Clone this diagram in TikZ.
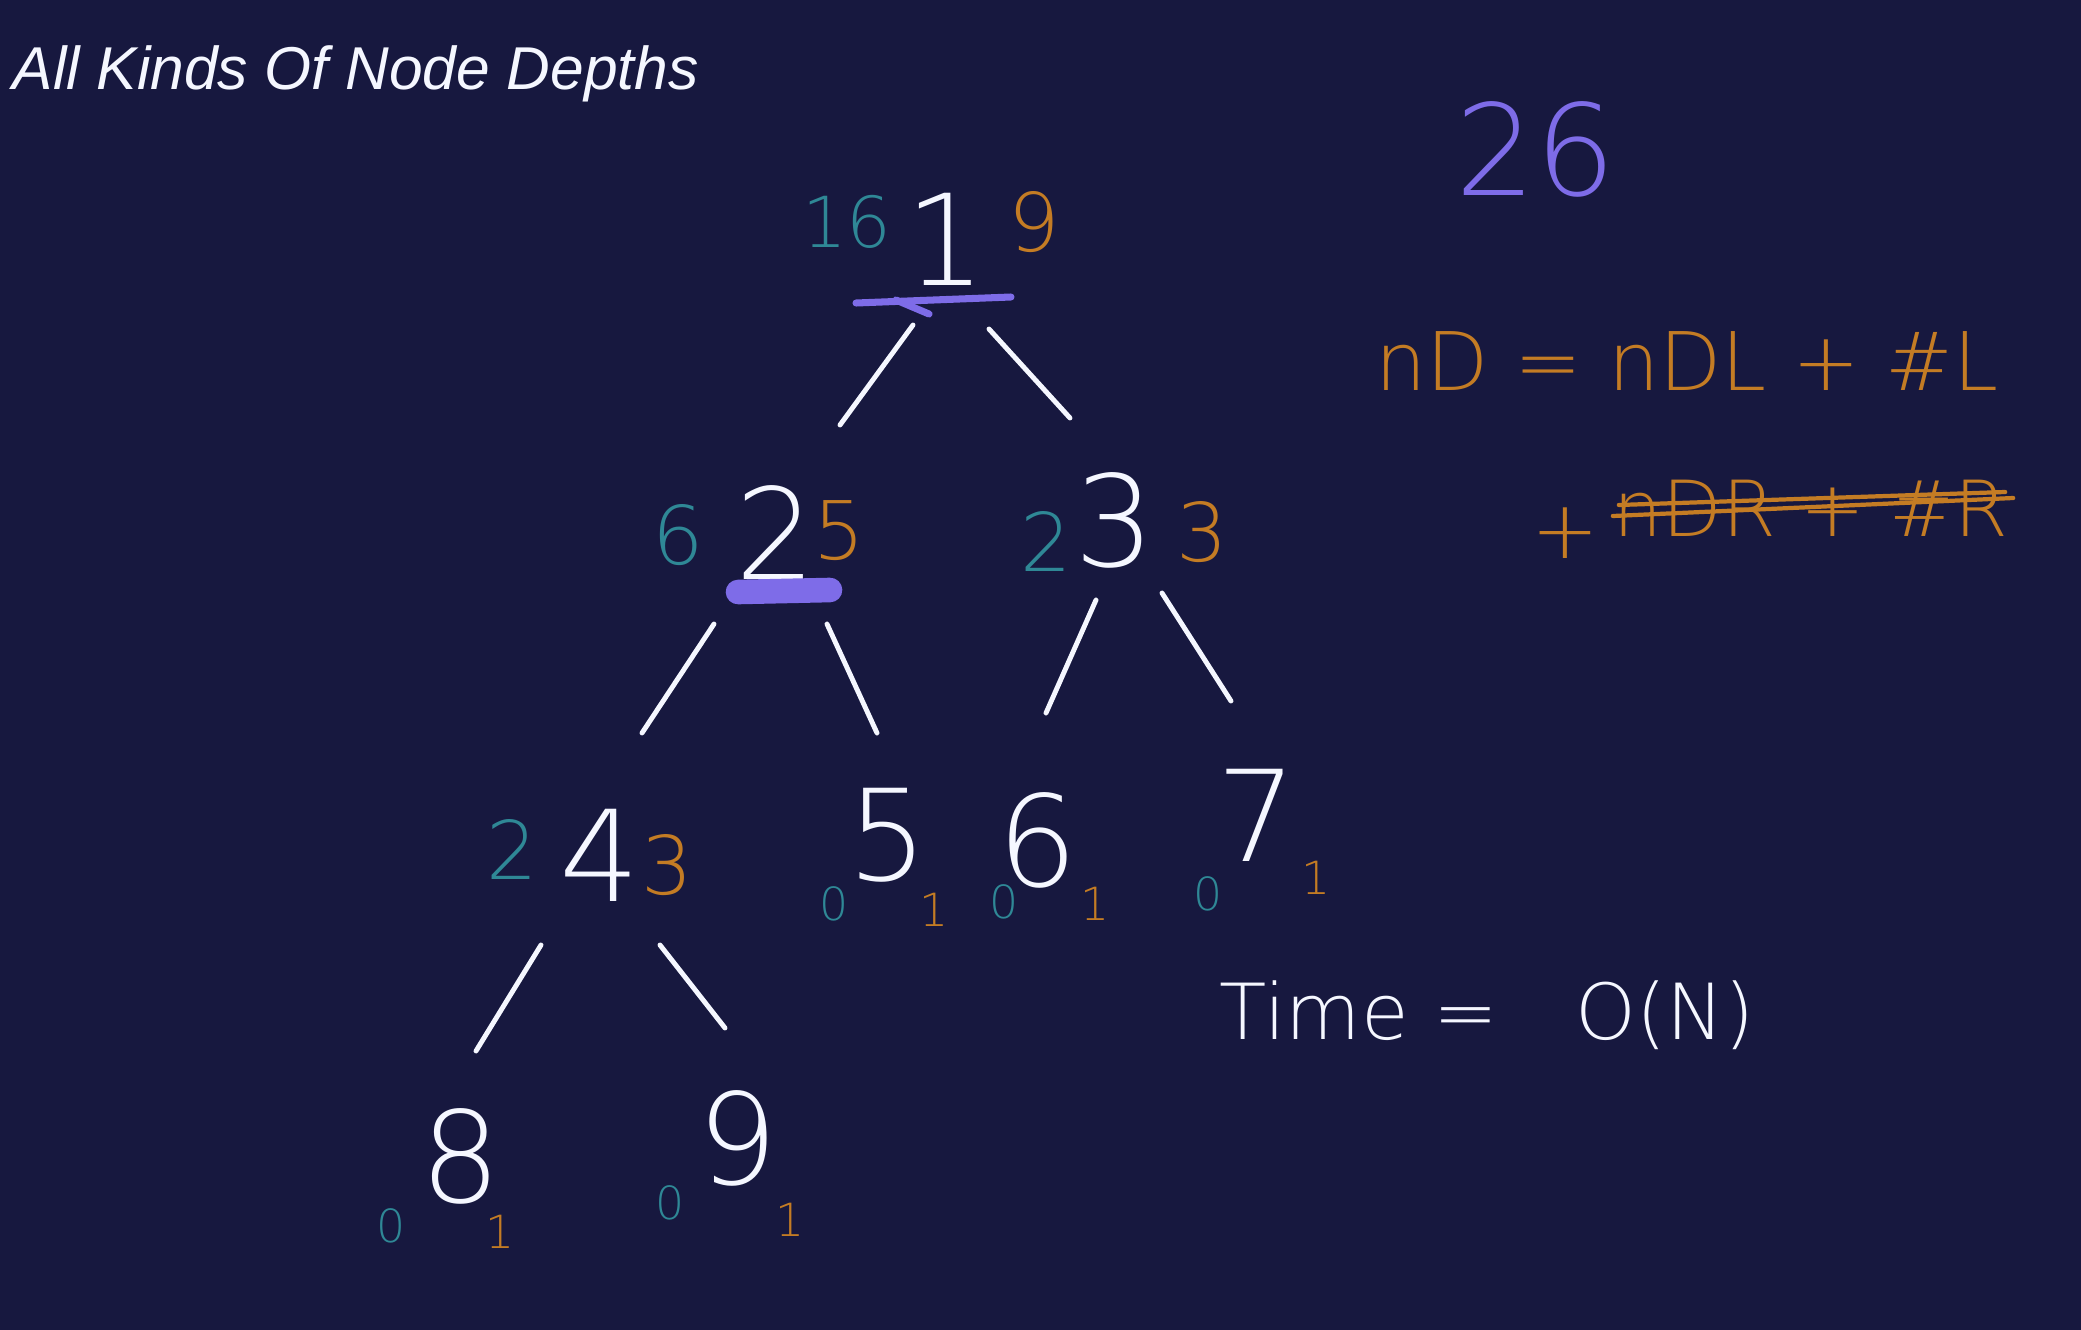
\documentclass[tikz,border=0pt]{standalone}
\usepackage{fontspec}
\setmainfont{Liberation Sans}
\newfontfamily\hand{DejaVuSans-ExtraLight.ttf}
\usepackage{tikz}
\usetikzlibrary{calc}
\definecolor{board}{RGB}{23,24,63}
\definecolor{chalk}{RGB}{245,247,255}
\definecolor{sumteal}{RGB}{47,136,150}
\definecolor{sumamber}{RGB}{196,124,36}
\definecolor{markviolet}{RGB}{126,108,232}

\begin{document}
\begin{tikzpicture}[x=0.01cm, y=-0.01cm, heading/.style={text=chalk, inner sep=0pt, font=\itshape\fontsize{17.2}{20}\selectfont}, treenode/.style={text=chalk, inner ysep=0pt, inner xsep=-3.5pt, font=\hand\fontsize{36}{36}\selectfont}, depthsum/.style={text=sumteal, inner sep=0pt, font=\hand\fontsize{23}{23}\selectfont}, nodecount/.style={text=sumamber, inner sep=0pt, font=\hand\fontsize{23}{23}\selectfont}, leafsum/.style={text=sumteal, inner ysep=0pt, inner xsep=-1pt, font=\hand\fontsize{13}{13}\selectfont}, leafcount/.style={text=sumamber, inner ysep=0pt, inner xsep=-1.5pt, font=\hand\fontsize{13}{13}\selectfont}, formula/.style={text=sumamber, inner sep=0pt, font=\hand\fontsize{23}{23}\selectfont}, edge/.style={draw=chalk, line width=1.4pt, line cap=round}, highlight/.style={draw=markviolet, line cap=round}, strike/.style={draw=sumamber, line width=1.2pt, line cap=round}]
\fill[board] (0,0) rectangle (2081,1330);
\useasboundingbox (0,0) rectangle (2081,1330);
\node[heading, anchor=base west] (title) at (12,90) {All Kinds Of Node Depths};
% tree
\node[treenode] (n1) at (946,239) {1};
\node[treenode] (n2) at (776,533) {2};
\node[treenode] (n3) at (1115,520) {3};
\node[treenode] (n4) at (600,855) {4};
\node[treenode] (n5) at (888,835) {5};
\node[treenode] (n6) at (1038,840) {6};
\node[treenode] (n7) at (1257,815) {7};
\node[treenode] (n8) at (461,1156) {8};
\node[treenode] (n9) at (738,1138) {9};
\draw[edge] ($(n1.center)+(-33,86)$) -- ($(n2.center)+(64,-108)$);
\draw[edge] ($(n1.center)+(43,90)$) -- ($(n3.center)+(-45,-102)$);
\draw[edge] ($(n2.center)+(-62,91)$) -- ($(n4.center)+(42,-122)$);
\draw[edge] ($(n2.center)+(51,91)$) -- ($(n5.center)+(-11,-102)$);
\draw[edge] ($(n3.center)+(-19,80)$) -- ($(n6.center)+(8,-127)$);
\draw[edge] ($(n3.center)+(47,73)$) -- ($(n7.center)+(-26,-114)$);
\draw[edge] ($(n4.center)+(-59,90)$) -- ($(n8.center)+(15,-105)$);
\draw[edge] ($(n4.center)+(60,90)$) -- ($(n9.center)+(-13,-110)$);
% sums and counts
\node[depthsum, font=\hand\fontsize{20}{20}\selectfont] (s1) at (847,222) {16};
\node[nodecount] (c1) at (1034,222) {9};
\node[depthsum] (s2) at (678,535) {6};
\node[nodecount] (c2) at (839,531) {5};
\node[depthsum] (s3) at (1046,541) {2};
\node[nodecount] (c3) at (1202,532) {3};
\node[depthsum] (s4) at (512,849) {2};
\node[nodecount] (c4) at (667,865) {3};
\node[leafsum] (s5) at (834,904) {0};
\node[leafcount] (c5) at (934,910) {1};
\node[leafsum] (s6) at (1004,902) {0};
\node[leafcount] (c6) at (1095,904) {1};
\node[leafsum] (s7) at (1208,894) {0};
\node[leafcount] (c7) at (1316,878) {1};
\node[leafsum] (s8) at (391,1226) {0};
\node[leafcount] (c8) at (500,1232) {1};
\node[leafsum] (s9) at (670,1203) {0};
\node[leafcount] (c9) at (790,1220) {1};
\draw[highlight, line width=2pt] ($(n1.center)+(-90,64)$) -- ($(n1.center)+(65,58)$);
\draw[highlight, line width=2pt] ($(n1.center)+(-50,61)$) -- ($(n1.center)+(-17,75)$);
\draw[highlight, line width=7pt] ($(n2.center)+(-38,59)$) -- ($(n2.center)+(54,57)$);
% right side
\node[text=markviolet, inner sep=0pt, font=\hand\fontsize{36}{36}\selectfont] (total) at (1536,149) {26};
\node[formula] (rule) at (1687,361) {nD = nDL + \#L};
\node[formula] (plus) at (1565,533) {+};
\node[formula, font=\hand\fontsize{22}{22}\selectfont] (dropped) at (1811,508) {nDR + \#R};
\draw[strike] ($(dropped.west)+(0,8)$) -- ($(dropped.east)+(4,-10)$);
\draw[strike] ($(dropped.west)+(6,-3)$) -- ($(dropped.east)+(-4,-16)$);
\node[text=chalk, inner sep=0pt, font=\hand\fontsize{22}{22}\selectfont] (cost) at (1487,1015) {Time =\quad O(N)};
\end{tikzpicture}
\end{document}
